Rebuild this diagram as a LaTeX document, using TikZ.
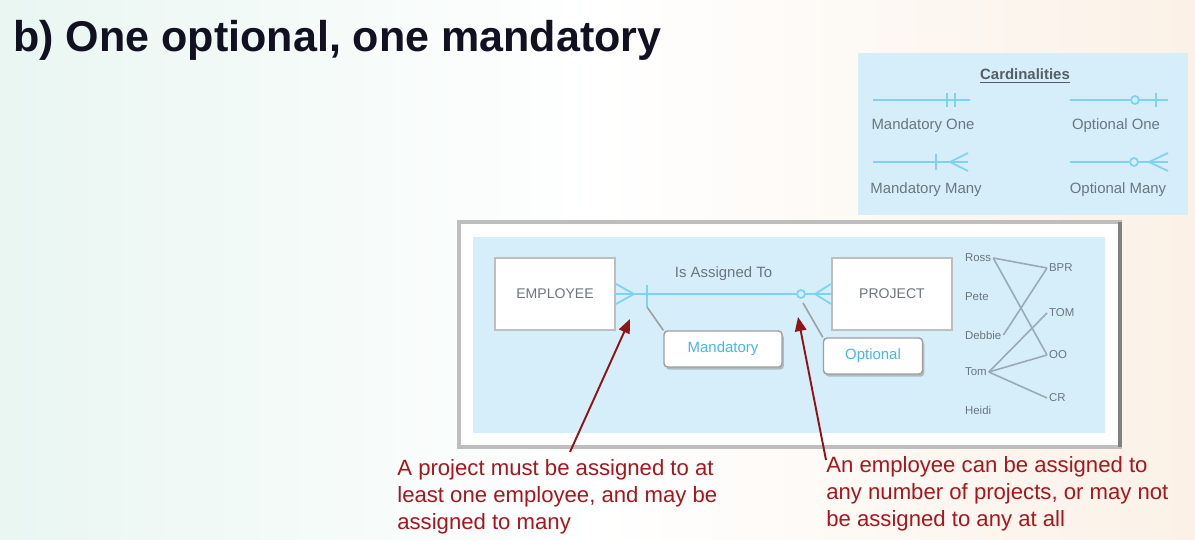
\documentclass[tikz,border=0pt]{standalone}
\usepackage{fontspec}
\setmainfont{Liberation Sans}
\usepackage{xcolor}
\usetikzlibrary{positioning,shadows,arrows.meta}
\definecolor{panelblue}{HTML}{D5EEF9}
\definecolor{linkblue}{HTML}{7ED2F4}
\definecolor{calloutblue}{HTML}{45B6EE}
\definecolor{notered}{HTML}{A8161C}
\definecolor{labelgray}{HTML}{6C767E}
\definecolor{framegray}{HTML}{BEBEBE}
\definecolor{instgray}{HTML}{9AAAB3}
\definecolor{titleink}{HTML}{111122}
\definecolor{bgleft}{HTML}{E9F6F2}
\definecolor{bgright}{HTML}{FBF1E7}

\begin{document}
\begin{tikzpicture}[x=0.02cm,y=-0.02cm]
\tikzstyle{entity}=[draw=framegray,fill=white,line width=1.2pt,minimum width=2.4cm,minimum height=1.44cm,text=labelgray,font=\fontsize{8}{9}\selectfont]
\tikzstyle{callout}=[draw=gray!75,fill=white,line width=0.8pt,rounded corners=2pt,drop shadow={shadow xshift=1pt,shadow yshift=-1.5pt,opacity=0.45},minimum height=0.72cm,text=calloutblue,font=\fontsize{8.5}{9}\selectfont]
\tikzstyle{link}=[linkblue,line width=1pt]
\tikzstyle{instline}=[instgray,line width=0.9pt]
\tikzstyle{inst}=[inner sep=1pt,anchor=west,text=labelgray,font=\fontsize{6.5}{7}\selectfont]
\tikzstyle{legendtext}=[text=labelgray,font=\fontsize{8.5}{9}\selectfont]
\tikzstyle{note}=[anchor=north west,inner sep=0pt,align=left,text=notered,font=\fontsize{12.6}{15.3}\selectfont]
\tikzstyle{noteline}=[notered!85!black,line width=1.1pt,-{Triangle[length=8pt,width=6.5pt]}]
\useasboundingbox (0,0) rectangle (1195,540);
\shade[left color=bgleft,right color=bgright,middle color=white] (0,0) rectangle (1195,540);
\node [anchor=base west,inner sep=0pt,text=titleink,font=\fontsize{24.5}{28}\selectfont\bfseries] (title) at (13,52) {b) One optional, one mandatory};
% cardinalities legend
\fill [panelblue] (858,53) rectangle (1188,215);
\node [text=labelgray!80!black,font=\fontsize{8.5}{9}\selectfont\bfseries] (cardtitle) at (1025,76) {\underline{Cardinalities}};
\draw [link] (873,100) -- (970,100);
\draw [link] (947,93) -- (947,107) (955,93) -- (955,107);
\node [legendtext] (mone) at (923,126) {Mandatory One};
\draw [link] (1070,100) -- (1130,100) (1139,100) -- (1168,100);
\draw [link] (1135,100) circle (4);
\draw [link] (1156,93) -- (1156,107);
\node [legendtext] (oone) at (1116,126) {Optional One};
\draw [link] (873,162) -- (968,162);
\draw [link] (936,154) -- (936,170);
\draw [link] (950,162) -- (968,153) (950,162) -- (968,171);
\node [legendtext] (mmany) at (926,190) {Mandatory Many};
\draw [link] (1070,162) -- (1129,162) (1138,162) -- (1168,162);
\draw [link] (1134,162) circle (4);
\draw [link] (1149,162) -- (1168,153) (1149,162) -- (1168,171);
\node [legendtext] (omany) at (1118,190) {Optional Many};
% frame and panel
\draw [framegray,line width=1.8pt,fill=white] (459,222) rectangle (1120,447);
\draw [gray,line width=1.8pt] (1120,222) -- (1120,447);
\fill [panelblue] (473,237) rectangle (1105,433);
\node [entity] (emp) at (555,294) {EMPLOYEE};
\node [entity] (proj) at (892,294) {PROJECT};
\draw [link] (emp.east) -- (proj.west) node [midway,above=4pt,text=labelgray,font=\fontsize{8.5}{9}\selectfont] (rel) {Is Assigned To};
\coordinate (empfoot) at (634,294);
\coordinate (empbar) at (647,294);
\coordinate (projring) at (801,294);
\coordinate (projfoot) at (815,294);
\draw [link] (empfoot) -- (emp.east |- 0,284) (empfoot) -- (emp.east |- 0,304);
\draw [link] (empbar) ++(0,-9) -- ++(0,22);
\fill [panelblue] (projring) circle (4);
\draw [link] (projring) circle (4);
\draw [link] (projfoot) -- (proj.west |- 0,284) (projfoot) -- (proj.west |- 0,304);
\node [callout,minimum width=2.36cm] (mand) at (723,349) {Mandatory};
\node [callout,minimum width=1.98cm] (opt) at (873,356) {Optional};
\draw [gray!75,line width=0.9pt] (empbar) ++(0,13) -- (mand.north west);
\draw [gray!75,line width=0.9pt] (projring) ++(2,9) -- (opt.north west);
% instances
\node [inst] (ross) at (963,258) {Ross};
\node [inst] (pete) at (963,297) {Pete};
\node [inst] (debbie) at (963,335) {Debbie};
\node [inst] (tom) at (963,372) {Tom};
\node [inst] (heidi) at (963,410) {Heidi};
\node [inst] (bpr) at (1047,268) {BPR};
\node [inst] (tomp) at (1047,313) {TOM};
\node [inst] (oo) at (1047,355) {OO};
\node [inst] (cr) at (1047,398) {CR};
\draw [instline] (ross.east) -- (bpr.west);
\draw [instline] (ross.east) -- (oo.west);
\draw [instline] (debbie.east) -- (bpr.west);
\draw [instline] (tom.east) -- (tomp.west);
\draw [instline] (tom.east) -- (oo.west);
\draw [instline] (tom.east) -- (cr.west);
% notes
\node [note] (noteproj) at (397,459) {A project must be assigned to at\\least one employee, and may be\\assigned to many};
\node [note] (noteemp) at (826,456) {An employee can be assigned to\\any number of projects, or may not\\be assigned to any at all};
\coordinate (tipemp) at (630,319);
\coordinate (tipproj) at (798,317);
\draw [noteline] (noteproj.north west -| 570,0) ++(0,-7) -- (tipemp);
\draw [noteline] (noteemp.north west) ++(0,4) -- (tipproj);
\end{tikzpicture}
\end{document}
